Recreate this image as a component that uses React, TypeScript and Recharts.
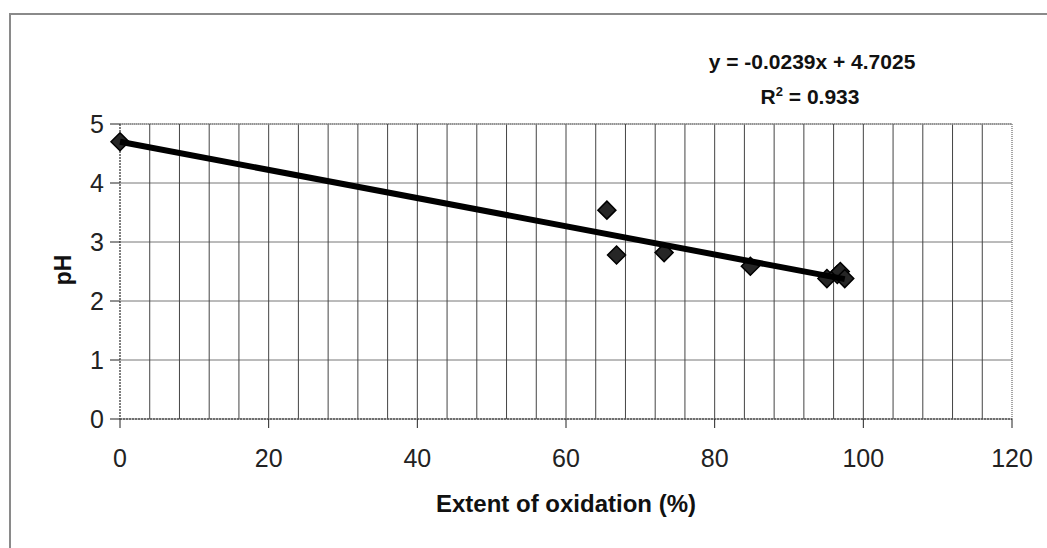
import { ComposedChart, Scatter, XAxis, YAxis, CartesianGrid, ReferenceLine } from "recharts";

const points = [
  { x: 0, y: 4.7 },
  { x: 65.5, y: 3.54 },
  { x: 66.8, y: 2.78 },
  { x: 73.2, y: 2.82 },
  { x: 84.8, y: 2.59 },
  { x: 95.1, y: 2.38 },
  { x: 96.5, y: 2.45 },
  { x: 96.9, y: 2.5 },
  { x: 97.5, y: 2.38 },
];

// trend line end points
const trend = [
  { x: 0, y: 4.7 },
  { x: 97.5, y: 2.37 },
];

const xTicks = [0, 20, 40, 60, 80, 100, 120];
const yTicks = [0, 1, 2, 3, 4, 5];
const gridX = [4, 8, 12, 16, 20, 24, 28, 32, 36, 40, 44, 48, 52, 56, 60, 64, 68, 72, 76, 80, 84, 88, 92, 96, 100, 104, 108, 112, 116];

const font = "'Liberation Sans', Arial, sans-serif";

// square turned 45 degrees, like the excel marker
const Diamond = (props: any) => {
  const { cx, cy } = props;
  const r = 9;
  return (
    <polygon
      points={`${cx},${cy - r} ${cx + r},${cy} ${cx},${cy + r} ${cx - r},${cy}`}
      fill="#262626"
      stroke="#000"
      strokeWidth={1.5}
    />
  );
};

export default function App() {
  return (
    <div style={{ position: "absolute", left: 0, top: 0, width: 1047, height: 548, background: "#fff", fontFamily: font }}>
      <div style={{ position: "absolute", left: 9, top: 13, right: 0, bottom: 0, borderLeft: "2px solid #8a8a8a", borderTop: "2px solid #8a8a8a" }} />
      <ComposedChart width={1047} height={548} margin={{ top: 124, right: 35, bottom: 84, left: 50 }}>
        <CartesianGrid vertical={false} stroke="#777" strokeWidth={1} />
        {gridX.map((g) => (
          <ReferenceLine key={g} x={g} stroke="#444" strokeWidth={1} />
        ))}
        <ReferenceLine y={5} stroke="#888" strokeWidth={1.5} strokeDasharray="1 1" />
        <ReferenceLine x={120} stroke="#888" strokeWidth={1.5} strokeDasharray="1 1" />
        <XAxis
          type="number"
          dataKey="x"
          domain={[0, 120]}
          ticks={xTicks}
          tickSize={9}
          height={45}
          axisLine={{ stroke: "#555", strokeWidth: 1.5, strokeDasharray: "2 1" }}
          tickLine={{ stroke: "#222" }}
          tick={{ fill: "#222", fontSize: 25, fontFamily: font }}
          tickMargin={21}
        />
        <YAxis
          type="number"
          dataKey="y"
          domain={[0, 5]}
          ticks={yTicks}
          width={70}
          tickSize={10}
          axisLine={{ stroke: "#555", strokeWidth: 1.5, strokeDasharray: "2 1" }}
          tickLine={{ stroke: "#222" }}
          tick={{ fill: "#222", fontSize: 25, fontFamily: font }}
          tickMargin={6}
        />
        <Scatter data={points} shape={Diamond} isAnimationActive={false} />
        <Scatter
          data={trend}
          line={{ stroke: "#000", strokeWidth: 6 }}
          shape={() => <g />}
          isAnimationActive={false}
        />
      </ComposedChart>
      <div style={{ position: "absolute", left: 63, top: 270, transform: "translate(-50%, -50%) rotate(-90deg)", fontSize: 23, fontWeight: "bold", color: "#111" }}>
        pH
      </div>
      <div style={{ position: "absolute", left: 566, top: 504, transform: "translate(-50%, -50%)", fontSize: 24, fontWeight: "bold", color: "#111", whiteSpace: "nowrap" }}>
        Extent of oxidation (%)
      </div>
      <div style={{ position: "absolute", left: 812, top: 62, transform: "translate(-50%, -50%)", fontSize: 21, fontWeight: "bold", color: "#111", whiteSpace: "nowrap" }}>
        y = -0.0239x + 4.7025
      </div>
      <div style={{ position: "absolute", left: 810, top: 97, transform: "translate(-50%, -50%)", fontSize: 21, fontWeight: "bold", color: "#111", whiteSpace: "nowrap", lineHeight: "24px" }}>
        R<sup style={{ fontSize: 13, lineHeight: 0 }}>2</sup> = 0.933
      </div>
    </div>
  );
}
